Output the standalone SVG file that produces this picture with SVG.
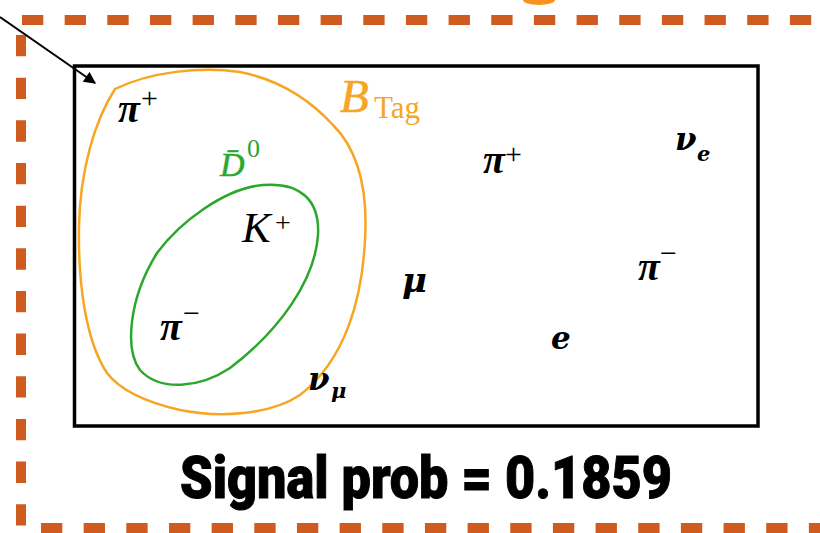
<svg xmlns="http://www.w3.org/2000/svg" width="820" height="533" viewBox="0 0 820 533">
<style>
.dash{stroke:#CF5B1F;stroke-width:10;fill:none;stroke-dasharray:21.33 21.33}
.p{font-family:"Liberation Serif","DejaVu Serif",serif;font-style:italic;font-weight:bold;fill:#000}
.m{font-family:"DejaVu Serif",serif;font-style:italic;font-weight:bold;fill:#000}
.mi{font-family:"Liberation Serif","DejaVu Serif",serif;font-style:italic;fill:#000}
.up{font-family:"Liberation Serif","DejaVu Serif",serif;fill:#000}
</style>
<defs>
<marker id="ah" viewBox="0 0 10 10" refX="9" refY="5" markerWidth="7" markerHeight="6" orient="auto" markerUnits="strokeWidth">
<path d="M0,0 L10,5 L0,10 Z" fill="#000"/>
</marker>
</defs>
<rect width="820" height="533" fill="#fff"/>
<g id="frame">
<line class="dash" x1="22" y1="20" x2="820" y2="20"/>
<line class="dash" x1="21" y1="35" x2="21" y2="533"/>
<line class="dash" x1="41" y1="528" x2="820" y2="528"/>
<path d="M523,0 A16,5 0 0 0 555,0 Z" fill="#F7931E"/>
</g>
<g id="connectors">
<line x1="0" y1="17" x2="95" y2="83" stroke="#000" stroke-width="2" marker-end="url(#ah)"/>
</g>
<g id="event">
<rect x="74.5" y="66" width="683.5" height="360" fill="none" stroke="#000" stroke-width="3.5"/>
</g>
<g id="btag">
<path d="M115,89 C150,72 200,66 240,72 C280,80 310,100 333,125 C358,150 368,190 365,240 C362,300 345,360 300,395 C270,415 220,418 180,410 C145,402 120,390 107,373 C85,340 78,280 79,227 C80,170 95,120 115,89 Z" fill="none" stroke="#F6A623" stroke-width="2.5"/>
<text x="340" y="112" font-family="Liberation Serif,serif" font-style="italic" font-size="47" fill="#F6A623" stroke="#F6A623" stroke-width="0.6">B</text>
<text x="374" y="118" font-family="Liberation Serif,serif" font-size="31" fill="#F6A623">Tag</text>
</g>
<g id="d0">
<path d="M263,185 C300,182 320,200 318,235 C315,280 280,330 230,368 C200,388 160,392 140,370 C125,350 128,300 157,253 C180,222 225,188 263,185 Z" fill="none" stroke="#2BA82B" stroke-width="2.5"/>
<text x="220" y="176" font-family="Liberation Serif,serif" font-style="italic" font-size="34" fill="#2BA82B" stroke="#2BA82B" stroke-width="0.5">D̄</text>
<text x="247" y="157" font-family="Liberation Serif,serif" font-size="26" fill="#2BA82B">0</text>
</g>
<g id="labels">
<text class="p" x="118" y="122" font-size="40">π</text><text class="up" x="141" y="108" font-size="30">+</text>
<text class="mi" x="242" y="242" font-size="43">K</text><text class="up" x="275" y="232" font-size="28">+</text>
<text class="p" x="160" y="340" font-size="40">π</text><text class="up" x="183" y="323" font-size="30">−</text>
<text class="m" x="308" y="390" font-size="31">ν</text><text class="m" x="331" y="398" font-size="21">μ</text>
<text class="m" x="402" y="292" font-size="34">μ</text>
<text class="p" x="483" y="173" font-size="40">π</text><text class="up" x="505" y="164" font-size="30">+</text>
<text class="m" x="675" y="150" font-size="31">ν</text><text class="m" x="697" y="161" font-size="21">e</text>
<text class="p" x="638" y="280" font-size="40">π</text><text class="up" x="660" y="263" font-size="30">−</text>
<text class="m" x="551" y="349" font-size="31">e</text>
</g>
<g id="caption">
<text x="180" y="498" font-family="Roboto,'Liberation Sans',sans-serif" font-weight="900" font-size="60" textLength="492" lengthAdjust="spacingAndGlyphs" fill="#000" stroke="#000" stroke-width="1">Signal prob = 0.1859</text>
</g>
</svg>
